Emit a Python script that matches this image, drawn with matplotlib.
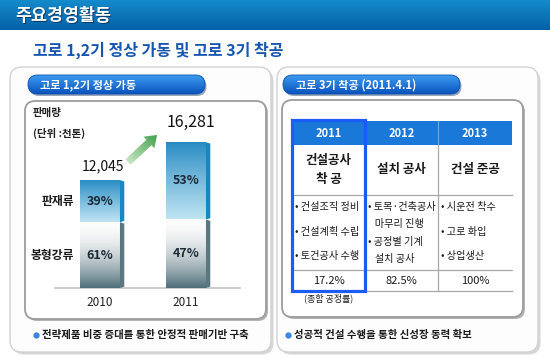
import numpy as np
import matplotlib
matplotlib.use("Agg")
import matplotlib.pyplot as plt
from matplotlib.patches import FancyBboxPatch, Rectangle, Polygon, FancyArrow
from matplotlib.colors import to_rgb

plt.rcParams['font.family'] = ['Noto Sans CJK KR', 'DejaVu Sans']

# ---------------- data ----------------
years = ['2010', '2011']
totals = [12045, 16281]                 # 판매량 (천톤)
plate_share = [39, 53]                  # 판재류 %
bar_share = [61, 47]                    # 봉형강류 %
segment_names = ['판재류', '봉형강류']

table_years = ['2011', '2012', '2013']
table_titles = ['건설공사\n착 공', '설치 공사', '건설 준공']
table_tasks = [
    ['• 건설조직 정비', '• 건설계획 수립', '• 토건공사 수행'],
    ['• 토목·건축공사', '   마무리 진행', '• 공정별 기계', '   설치 공사'],
    ['• 시운전 착수', '• 고로 화입', '• 상업생산'],
]
table_progress = ['17.2%', '82.5%', '100%']

W, H = 550, 364
fig = plt.figure(figsize=(W / 100, H / 100), dpi=100)
bg = fig.add_axes([0, 0, 1, 1])
bg.set_xlim(0, W)
bg.set_ylim(H, 0)
bg.set_autoscale_on(False)
bg.axis('off')


def vgrad(c_top, c_bot, n=96, gamma=1.0):
    a, b = np.array(to_rgb(c_top)), np.array(to_rgb(c_bot))
    t = (np.linspace(0, 1, n) ** gamma)[:, None]
    return (a * (1 - t) + b * t)[:, None, :]


def grad_patch(ax, patch, c_top, c_bot, extent, z, gamma=1.0):
    im = ax.imshow(vgrad(c_top, c_bot, gamma=gamma), extent=extent, origin='upper',
                   aspect='auto', zorder=z, interpolation='bilinear')
    im.set_clip_path(patch)


# ---------------- header ----------------
hdr = Rectangle((0, 0), W, 30, facecolor='none', edgecolor='none')
bg.add_patch(hdr)
grad_patch(bg, hdr, '#148bcb', '#0561a7', (0, W, 30, 0), 1)
bg.text(15.8, 16.8, '주요경영활동', color='#0b3a66', fontsize=12.5,
        fontweight='bold', va='center', ha='left', zorder=3)
bg.text(15, 16, '주요경영활동', color='white', fontsize=12.5,
        fontweight='bold', va='center', ha='left', zorder=4)

bg.text(33, 50, '고로 1,2기 정상 가동 및 고로 3기 착공', color='#1656b0',
        fontsize=11.5, fontweight='bold', va='center', ha='left')


def panel(x0, y0, x1, y1, r, face, edge, lw, shadow, z, sh=2.5):
    s = FancyBboxPatch((x0 + sh, y0 + sh), x1 - x0, y1 - y0,
                       boxstyle=f"round,pad=0,rounding_size={r}",
                       facecolor=shadow, edgecolor='none', zorder=z)
    bg.add_patch(s)
    p = FancyBboxPatch((x0, y0), x1 - x0, y1 - y0,
                       boxstyle=f"round,pad=0,rounding_size={r}",
                       facecolor=face, edgecolor=edge, linewidth=lw, zorder=z + 0.1)
    bg.add_patch(p)
    return p


def pill(x0, y0, x1, y1, text, tx):
    s = FancyBboxPatch((x0 + 1.5, y0 + 2), x1 - x0, y1 - y0,
                       boxstyle=f"round,pad=0,rounding_size={(y1 - y0) / 2}",
                       facecolor='#9aa6b8', edgecolor='none', zorder=5)
    bg.add_patch(s)
    p = FancyBboxPatch((x0, y0), x1 - x0, y1 - y0,
                       boxstyle=f"round,pad=0,rounding_size={(y1 - y0) / 2}",
                       facecolor='none', edgecolor='#0b4fb0', linewidth=0.6, zorder=6)
    bg.add_patch(p)
    grad_patch(bg, p, '#3d9cf0', '#0a52bd', (x0, x1, y1, y0), 5.5)
    bg.text(tx, (y0 + y1) / 2 + 0.5, text, color='white', fontsize=8,
            fontweight='bold', va='center', ha='left', zorder=7)


# outer panels
panel(10, 67, 271, 352, 12, '#fdfdfd', '#d2d2d2', 1.0, '#d6d6d6', 2)
panel(277, 67, 538, 352, 12, '#fdfdfd', '#d2d2d2', 1.0, '#d6d6d6', 2)
# inner boxes
panel(25, 101, 266, 319, 10, 'white', '#9c9c9c', 1.3, '#b4b4b4', 3, sh=2)
panel(282, 100, 523, 317, 10, 'white', '#9c9c9c', 1.3, '#b4b4b4', 3, sh=2)

pill(28, 75, 205, 94, '고로 1,2기 정상 가동', 40)
pill(283, 75, 460, 94, '고로 3기 착공 (2011.4.1)', 296)

# left labels
bg.text(33, 113, '판매량', fontsize=7.5, fontweight='bold', color='#222222',
        va='center', ha='left', zorder=8)
bg.text(33, 133, '(단위 :천톤)', fontsize=7.5, fontweight='bold', color='#222222',
        va='center', ha='left', zorder=8)

# green arrow with gradient
arr = FancyArrow(128, 162, 29, -27, width=7.5, head_width=16, head_length=11,
                 length_includes_head=True, facecolor='none', edgecolor='none', zorder=8)
bg.add_patch(arr)
n = 60
yy, xx = np.mgrid[0:n, 0:n] / (n - 1)
t = np.clip((xx + (1 - yy)) / 2, 0, 1)[..., None]
c0, c1 = np.array(to_rgb('#dcefd6')), np.array(to_rgb('#2b9636'))
img = c0 * (1 - t) + c1 * t
im = bg.imshow(img, extent=(124, 162, 166, 130), origin='upper', aspect='auto',
               zorder=8, interpolation='bilinear')
im.set_clip_path(arr)

# bottom bullet notes
for bx, txt in [(36, '전략제품 비중 증대를 통한 안정적 판매기반 구축'),
                (288, '성공적 건설 수행을 통한 신성장 동력 확보')]:
    bg.plot([bx], [335], marker='o', markersize=3.5, color='#3a86e0', zorder=8)
    bg.text(bx + 6, 335, txt, fontsize=7.5, fontweight='bold', color='#1a1a1a',
            va='center', ha='left', zorder=8)

# ---------------- bar chart ----------------
px_l, px_r, px_b, px_t = 55, 240, 288, 100
ax = fig.add_axes([px_l / W, (H - px_b) / H, (px_r - px_l) / W, (px_b - px_t) / H])
ax.patch.set_visible(False)
ax.set_xlim(-0.523, 1.628)
ax.set_ylim(0, 21000)
ax.set_autoscale_on(False)
for s in ['top', 'right', 'left']:
    ax.spines[s].set_visible(False)
ax.spines['bottom'].set_color('#c4c4c4')
ax.spines['bottom'].set_linewidth(1.2)
ax.set_yticks([])
xpos = np.arange(len(years))
ax.set_xticks(xpos)
ax.set_xticklabels(years, fontsize=8.5, color='#222222')
ax.tick_params(axis='x', length=0, pad=6)

bw = 0.465
low_vals = [tot * s / 100 for tot, s in zip(totals, bar_share)]
up_vals = [tot * s / 100 for tot, s in zip(totals, plate_share)]
low = ax.bar(xpos, low_vals, width=bw, color='none', edgecolor='none', zorder=3)
up = ax.bar(xpos, up_vals, width=bw, bottom=low_vals, color='none', edgecolor='none', zorder=3)

dx = 0.05
for rects, ctop, cbot, side, gam in [(low, '#fcfcfc', '#4f6f7a', '#5d7780', 1.8),
                                     (up, '#2489c2', '#bfe4f3', '#1888c1', 0.9)]:
    for r in rects:
        x0, y0 = r.get_x(), r.get_y()
        x1, y1 = x0 + r.get_width(), y0 + r.get_height()
        grad_patch(ax, r, ctop, cbot, (x0, x1, y0, y1), 3, gamma=gam)
        ax.add_patch(Polygon([(x1, y0), (x1 + dx, y0 + 150), (x1 + dx, y1 - 150), (x1, y1)],
                             closed=True, facecolor=side, edgecolor='none', zorder=3))

for i in xpos:
    ax.text(i, low_vals[i] / 2, f'{bar_share[i]}%', ha='center', va='center',
            fontsize=9, fontweight='bold', color='#1c2a38', zorder=5)
    ax.text(i, low_vals[i] + up_vals[i] / 2, f'{plate_share[i]}%', ha='center',
            va='center', fontsize=9, fontweight='bold', color='#1c2a38', zorder=5)

ax.text(-bw / 2 - 0.07, low_vals[0] + up_vals[0] / 2, segment_names[0], ha='right',
        va='center', fontsize=8.5, fontweight='bold', color='#1a1a1a')
ax.text(-bw / 2 - 0.07, low_vals[0] / 2, segment_names[1], ha='right',
        va='center', fontsize=8.5, fontweight='bold', color='#1a1a1a')

for i, (tot, fs, dxo, off) in enumerate(zip(totals, [10, 11.5], [2.5, 3.5], [10, 14.5])):
    ax.annotate(f'{tot:,}', (i, tot), xytext=(dxo, off), textcoords='offset points',
                ha='center', va='center', fontsize=fs, fontweight=500,
                color='#111111', annotation_clip=False)

# ---------------- table ----------------
cols = [292, 365, 438, 512]
r_hdr, r_t, r_b, r_p, r_end = 121, 145, 195, 270, 291
bg.add_patch(Rectangle((cols[0], r_hdr), cols[-1] - cols[0], r_t - r_hdr,
                       facecolor='#1a78d8', edgecolor='none', zorder=6))
for cx in cols[1:-1]:
    bg.plot([cx, cx], [r_hdr, r_t], color='#6aaae8', lw=0.8, zorder=6.5)
    bg.plot([cx, cx], [r_t, r_end], color='#a8a8a8', lw=0.9, zorder=6.5)
for ry in [r_b, r_p, r_end]:
    bg.plot([cols[0], cols[-1]], [ry, ry], color='#a8a8a8', lw=0.9, zorder=6.5)

for j in range(3):
    cx = (cols[j] + cols[j + 1]) / 2
    bg.text(cx, (r_hdr + r_t) / 2 + 0.5, table_years[j], color='white', fontsize=8,
            fontweight='bold', ha='center', va='center', zorder=7)
    bg.text(cx, (r_t + r_b) / 2, table_titles[j], color='#1a1a1a', fontsize=9,
            fontweight='bold', ha='center', va='center', linespacing=1.6, zorder=7)
    tasks = table_tasks[j]
    if len(tasks) == 3:
        ys = [207, 232, 256]
    else:
        ys = [207, 224, 242, 259]
    for ty, tt in zip(ys, tasks):
        bg.text(cols[j] + 3, ty, tt, fontsize=7.3, color='#1a1a1a', ha='left',
                va='center', zorder=7)
    bg.text(cx, (r_p + r_end) / 2, table_progress[j], fontsize=8, color='#1a1a1a',
            ha='center', va='center', zorder=7)

bg.add_patch(Rectangle((cols[0], r_hdr - 1), cols[1] - cols[0], r_end - r_hdr + 1,
                       facecolor='none', edgecolor='#1a5cf5', linewidth=2.3, zorder=8))
bg.text((cols[0] + cols[1]) / 2, 298, '(종합 공정률)', fontsize=6.5, color='#222222',
        ha='center', va='center', zorder=8)

fig.savefig('out.png', dpi=100)
